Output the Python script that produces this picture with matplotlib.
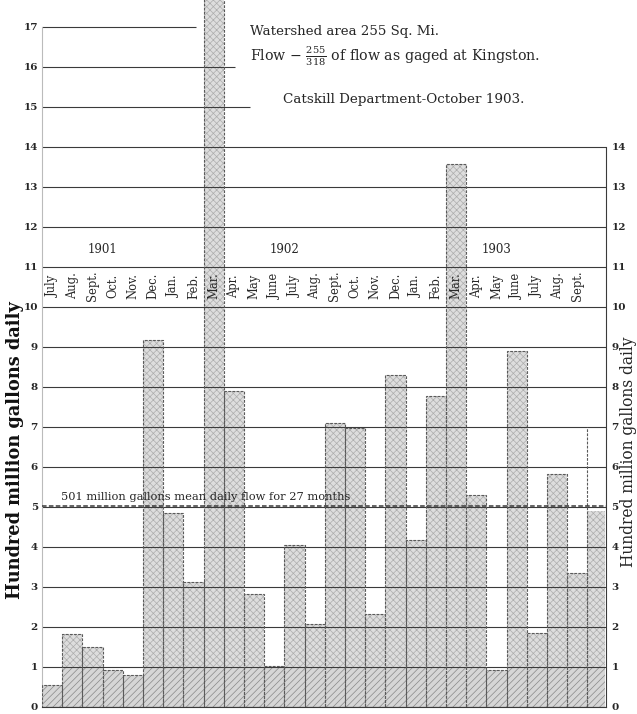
import matplotlib
matplotlib.use("Agg")
import matplotlib.pyplot as plt
import numpy as np

# Monthly mean daily flow, hundred million gallons, July 1901 - Sept. 1903
months = ["July", "Aug.", "Sept.", "Oct.", "Nov.", "Dec.",
          "Jan.", "Feb.", "Mar.", "Apr.", "May", "June", "July", "Aug.", "Sept.", "Oct.", "Nov.", "Dec.",
          "Jan.", "Feb.", "Mar.", "Apr.", "May", "June", "July", "Aug.", "Sept."]
flow = [0.55, 1.81, 1.50, 0.92, 0.79, 9.18,
        4.85, 3.12, 17.7, 7.90, 2.83, 1.02, 4.05, 2.07, 7.10, 6.96, 2.33, 8.29,
        4.18, 7.78, 13.58, 5.29, 0.93, 8.90, 1.85, 5.83, 3.35]
years = ["1901", "1902", "1903"]
months_in_year = [6, 12, 9]
mean_flow = 5.01
tail_flow = 4.9        # partial record following Sept. 1903
sept_mark = 7.0        # dashed marker at end of record
left_ticks = list(range(0, 18))
right_ticks = list(range(0, 15))

plt.rcParams["font.family"] = ["DejaVu Serif"]
plt.rcParams["mathtext.fontset"] = "dejavuserif"
plt.rcParams["hatch.linewidth"] = 0.5

INK = "#262626"
n = len(flow)
xmax = n + 0.92
ytop = 17.67
x = np.arange(n)
fl = np.array(flow)

fig = plt.figure(figsize=(6.37, 7.14), dpi=100)
ax = fig.add_axes([42 / 637, 7.3 / 714, 564 / 637, 706.7 / 714])
ax.set_xlim(0, xmax)
ax.set_ylim(0, ytop)

# hatched bars: diagonal hatch below 1, cross-hatch above
lower = np.minimum(fl, 1.0)
upper = np.clip(fl - 1.0, 0, None)
ax.bar(x, lower, width=1, align="edge", color="#d6d6d6", edgecolor="#888888",
       hatch="/////", linewidth=0, zorder=1)
ax.bar(x, upper, bottom=1.0, width=1, align="edge", color="#dddddd", edgecolor="#adadad",
       hatch="xxxxx", linewidth=0, zorder=1)
ax.bar(x, fl, width=1, align="edge", fill=False, edgecolor="#5a5a5a",
       linewidth=0.8, linestyle=(0, (2.5, 1.2)), zorder=3)

# partial record after the last month
ax.bar(n, min(tail_flow, 1.0), width=0.85, align="edge", color="#d6d6d6", edgecolor="#888888",
       hatch="/////", linewidth=0, zorder=1)
ax.bar(n, tail_flow - 1.0, bottom=1.0, width=0.85, align="edge", color="#dddddd",
       edgecolor="#adadad", hatch="xxxxx", linewidth=0, zorder=1)
ax.vlines(n, 0, sept_mark, colors="#5a5a5a", linewidth=0.8,
          linestyles=(0, (2.5, 1.2)), zorder=3)

# horizontal rules
ax.hlines(right_ticks, 0, xmax, colors="#3a3a3a", linewidth=0.8, zorder=2)
ax.hlines([15, 16, 17], 0, [10.3, 9.55, 7.6], colors="#3a3a3a", linewidth=0.8, zorder=2)

# mean flow line
ax.hlines(mean_flow, 0, xmax, colors="#3a3a3a", linewidth=1.1,
          linestyles=(0, (3, 1.5)), zorder=4)
ax.text(8.1, mean_flow + 0.24,
        f"{int(round(mean_flow * 100))} million gallons mean daily flow for {n} months",
        ha="center", va="center", fontsize=8.2, color=INK, zorder=5)

# month names and years
for i, m in enumerate(months):
    ax.text(i + 0.5, 10.52, m, rotation=90, ha="center", va="center",
            fontsize=8.3, color=INK, zorder=5)
start = 0
for y, k in zip(years, months_in_year):
    ax.text(start + k / 2, 11.42, y, ha="center", va="center", fontsize=8.5,
            color=INK, zorder=5)
    start += k

# notes
ax.text(10.3, 16.87, "Watershed area 255 Sq. Mi.", ha="left", va="center",
        fontsize=9.6, color=INK)
ax.text(10.3, 16.28, r"Flow $-$ $\frac{255}{318}$ of flow as gaged at Kingston.",
        ha="left", va="center", fontsize=10.2, color=INK)
ax.text(11.95, 15.17, "Catskill Department-October 1903.", ha="left", va="center",
        fontsize=9.7, color=INK)

# axes, ticks
for s in ["top", "right"]:
    ax.spines[s].set_visible(False)
ax.spines["left"].set_bounds(0, 17)
ax.spines["left"].set_color("#bbbbbb")
ax.spines["bottom"].set_color("#3a3a3a")
ax.set_xticks([])
ax.set_yticks(left_ticks)
ax.set_yticklabels([str(t) for t in left_ticks], fontsize=7.5, fontweight="bold", color=INK)
ax.tick_params(axis="y", length=0, pad=3)

ax2 = ax.twinx()
ax2.set_ylim(0, ytop)
for s in ["top", "left", "bottom"]:
    ax2.spines[s].set_visible(False)
ax2.spines["right"].set_bounds(0, 14)
ax2.spines["right"].set_color("#3a3a3a")
ax2.set_yticks(right_ticks)
ax2.set_yticklabels([str(t) for t in right_ticks], fontsize=7.5, fontweight="bold", color=INK)
ax2.tick_params(axis="y", length=0, pad=4)

fig.text(15 / 637, 1 - 450 / 714, "Hundred million gallons daily", rotation=90,
         ha="center", va="center", fontsize=12.8, fontweight="bold", color="#111111")
fig.text(628.5 / 637, 1 - 452 / 714, "Hundred million gallons daily", rotation=90,
         ha="center", va="center", fontsize=11.2, color=INK)

fig.savefig("out.png", dpi=100)
